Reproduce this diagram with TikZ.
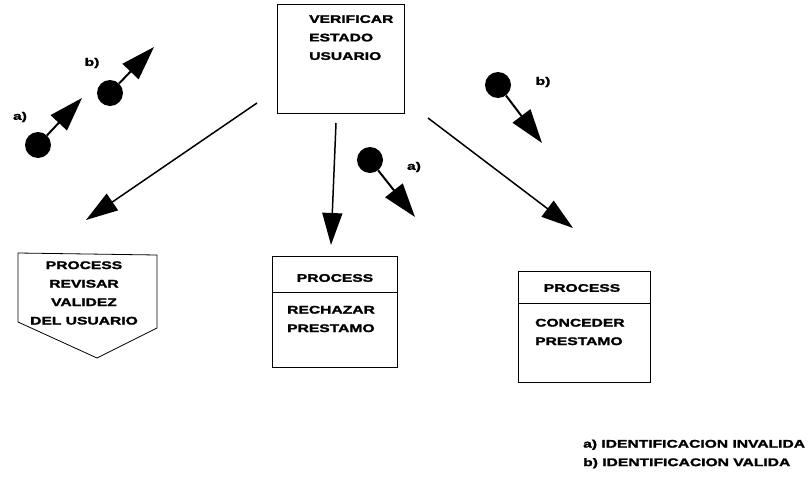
\documentclass[tikz,border=0pt]{standalone}
\usepackage{fontspec}
\setmainfont{Liberation Sans}
\newfontfamily\blobfont[FakeStretch=1.42, FakeBold=2]{Liberation Sans}
\usetikzlibrary{arrows.meta}

\begin{document}
\begin{tikzpicture}[x=1pt,y=-1pt]
	\useasboundingbox (0,0) rectangle (812,477);
	% boxes
	\begin{scope}[every node/.style = {rectangle, draw, thick, inner sep=0pt}]
		\node (V) at (341,59) [minimum width=127pt, minimum height=109pt] {};
		\node (R) at (335,312) [minimum width=125pt, minimum height=111pt] {};
		\node (C) at (584,327) [minimum width=132pt, minimum height=111pt] {};
	\end{scope}
	\draw[thick] (18,253) -- (157,255) -- (157,328) -- (97,358) -- (18,322) -- cycle;
	\draw[thick] (R.west |- 0,292) -- (R.east |- 0,292);
	\draw[thick] (C.west |- 0,303) -- (C.east |- 0,303);
	% texts
	\begin{scope}[every node/.style = {font=\blobfont\bfseries\fontsize{11}{18.5}\selectfont, inner sep=0pt}]
		\node (Vt) [anchor=north west, align=left] at (309,15) {VERIFICAR\\ESTADO\\USUARIO};
		\node (Pt) [align=center] at (84,293) {PROCESS\\REVISAR\\VALIDEZ\\DEL USUARIO};
		\node (Rp) at (335,278) {PROCESS};
		\node (Rt) [anchor=west, align=left] at (287,319) {RECHAZAR\\PRESTAMO};
		\node (Cp) at (582,288) {PROCESS};
		\node (Ct) [anchor=west, align=left] at (535,332) {CONCEDER\\PRESTAMO};
		\node (L) [anchor=west, align=left] at (583,454) {a) IDENTIFICACION INVALIDA\\b) IDENTIFICACION VALIDA};
		\node (la1) at (20,117) {a)};
		\node (lb1) at (92,63) {b)};
		\node (la2) at (414,167) {a)};
		\node (lb2) at (543,82) {b)};
	\end{scope}
	% tokens
	\begin{scope}[every node/.style = {circle, fill=black, minimum size=26pt, inner sep=0pt}]
		\node (ta1) at (38,145) {};
		\node (tb1) at (110,93) {};
		\node (ta2) at (370,160) {};
		\node (tb2) at (498,85) {};
	\end{scope}
	\coordinate (ta1e) at (82,98);
	\coordinate (tb1e) at (154,47);
	\coordinate (ta2e) at (415,217);
	\coordinate (tb2e) at (542,143);
	\begin{scope}[>={Triangle[length=34pt, width=22pt]},
			every edge/.style={draw=black, line width=2pt}]
		\path [->] (ta1) edge (ta1e);
		\path [->] (tb1) edge (tb1e);
		\path [->] (ta2) edge (ta2e);
		\path [->] (tb2) edge (tb2e);
	\end{scope}
	% flow arrows
	\coordinate (s1) at (257,103);
	\coordinate (s2) at (336,123);
	\coordinate (s3) at (428,118);
	\coordinate (e1) at (86,220);
	\coordinate (e2) at (331,245);
	\coordinate (e3) at (573,228);
	\begin{scope}[>={Triangle[length=32pt, width=20pt]},
			every edge/.style={draw=black, line width=1.5pt}]
		\path [->] (s1) edge (e1);
		\path [->] (s2) edge (e2);
		\path [->] (s3) edge (e3);
	\end{scope}
\end{tikzpicture}
\end{document}
